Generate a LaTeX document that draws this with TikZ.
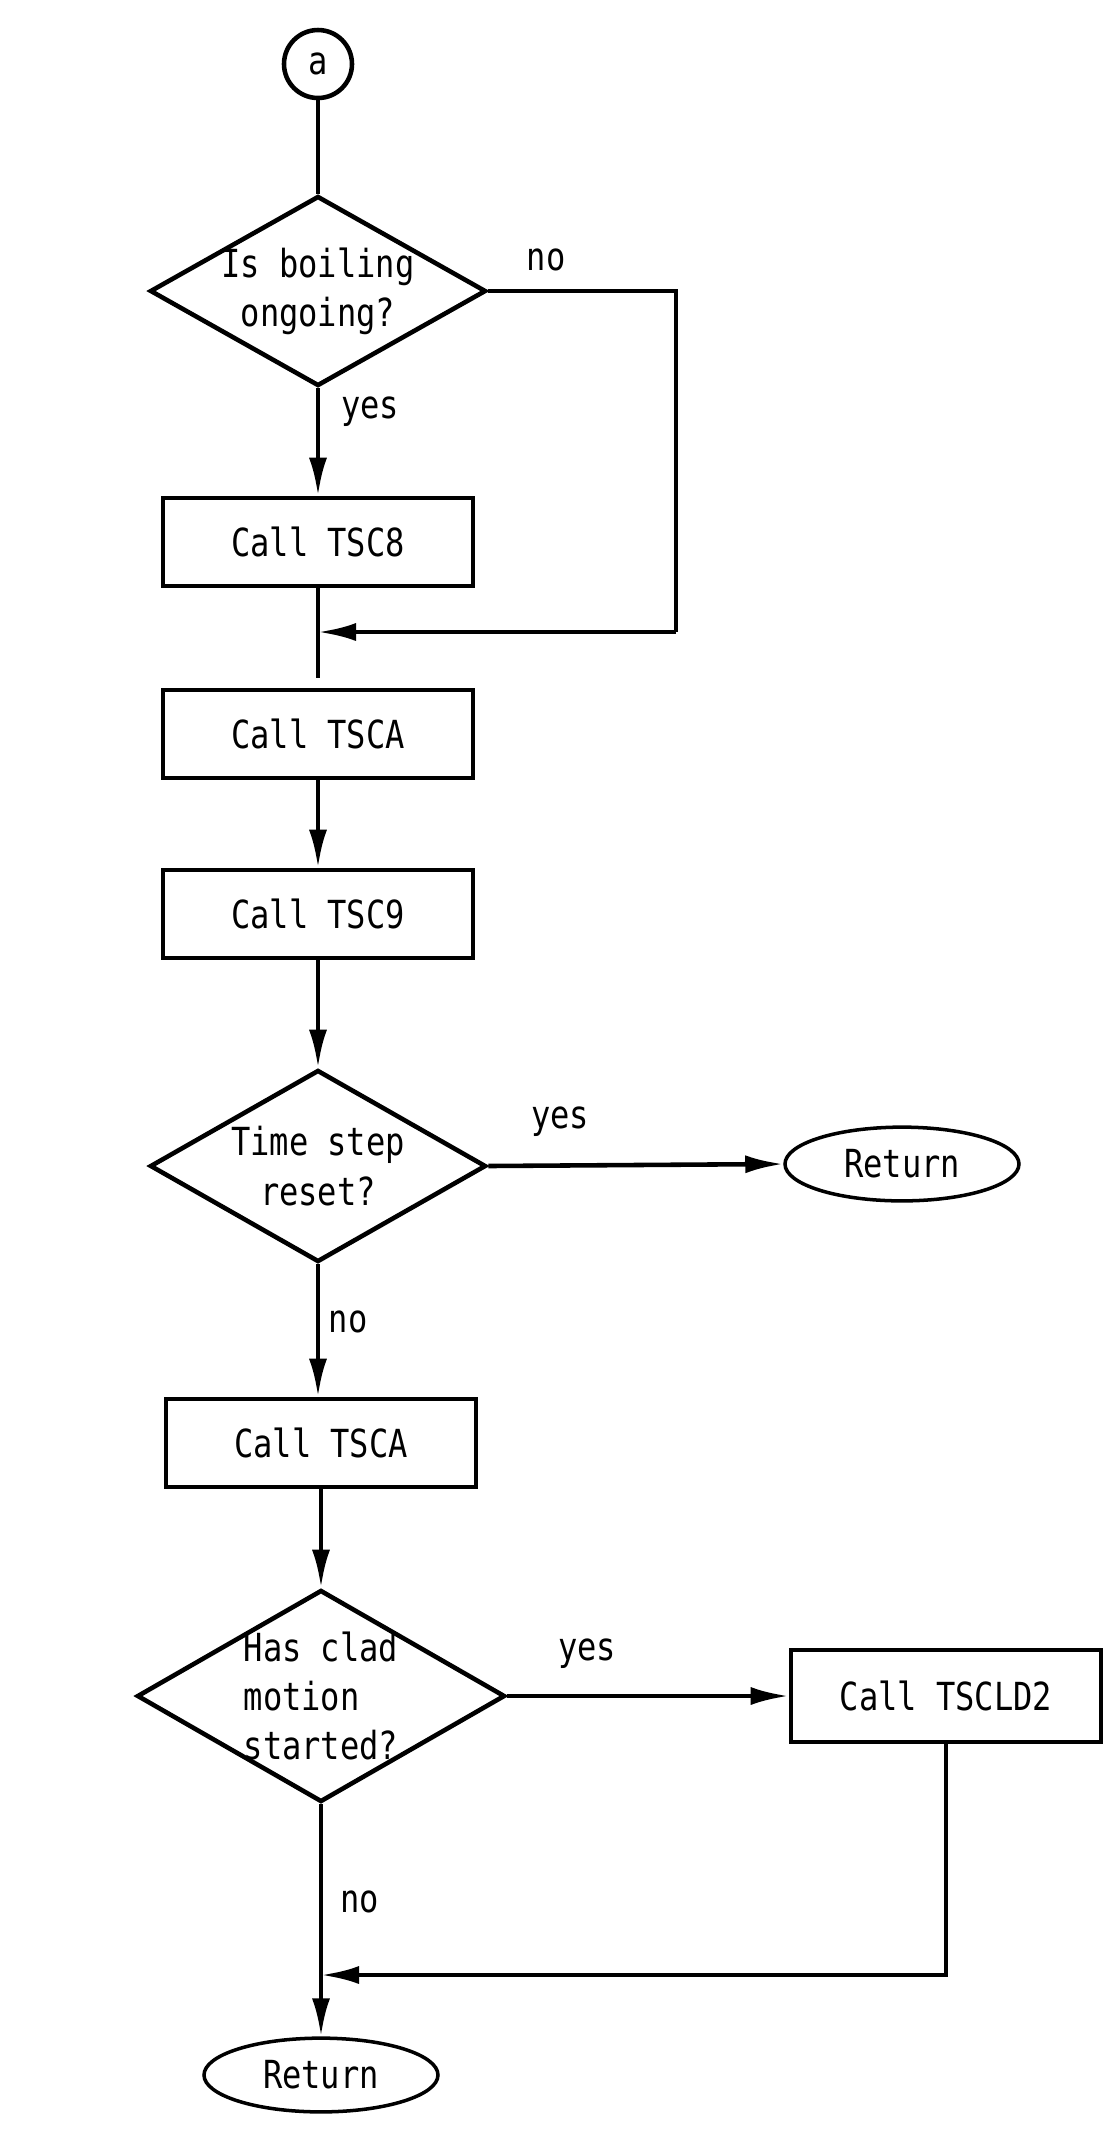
\documentclass[tikz,border=0pt]{standalone}
\usepackage{fontspec}
\setmainfont[FakeStretch=0.83]{DejaVu Sans Mono}
\usetikzlibrary{shapes.geometric,arrows.meta}

\begin{document}
\begin{tikzpicture}[y=-1cm,
    every node/.style={font=\fontsize{11}{14}\selectfont},
    flow/.style={line width=1.3pt},
    arrow/.style={flow, -{Latex[length=3.8mm,width=1.8mm]}},
    callbox/.style={draw, flow, rectangle, minimum width=3.1cm, minimum height=0.88cm},
    decision/.style={draw, flow, diamond, minimum width=3.36cm, minimum height=1.9cm, inner sep=0pt},
    terminal/.style={draw, line width=1pt, ellipse, minimum width=2.34cm, minimum height=0.72cm}]
    \useasboundingbox (0,0) rectangle (11.12,21.55);

    % Entry point
    \node[draw, flow, circle, minimum size=0.68cm, inner sep=0pt] (a) at (3.18, 0.64) {a};

    % Boiling check
    \node[decision, label={[align=center]center:Is boiling\\ongoing?}] (boil) at (3.18, 2.91) {};
    \node[callbox] (tsc8) at (3.18, 5.42) {Call TSC8};
    \coordinate (join1) at (3.18, 6.32);
    \coordinate (bypass) at (6.76, 6.32);
    \coordinate (stub) at (3.18, 6.78);
    \node (boilno) at (5.46, 2.60) {no};
    \node (boilyes) at (3.70, 4.12) {yes};

    % Time step update
    \node[callbox] (tsca1) at (3.18, 7.34) {Call TSCA};
    \node[callbox] (tsc9) at (3.18, 9.14) {Call TSC9};
    \node[decision, minimum height=1.92cm, label={[align=center]center:Time step\\reset?}] (reset) at (3.18, 11.66) {};
    \node[terminal] (ret1) at (9.02, 11.64) {Return};
    \node (resetyes) at (5.60, 11.22) {yes};
    \node (resetno) at (3.48, 13.22) {no};

    % Clad motion
    \node[callbox] (tsca2) at (3.21, 14.43) {Call TSCA};
    \node[decision, minimum width=3.68cm, minimum height=2.12cm, label={[align=left]center:Has clad\\motion\\started?}] (clad) at (3.21, 16.96) {};
    \node[callbox, minimum height=0.92cm] (tscld2) at (9.46, 16.96) {Call TSCLD2};
    \coordinate (merge) at (3.21, 19.75);
    \node[terminal, minimum height=0.68cm] (ret2) at (3.21, 20.75) {Return};
    \node (cladyes) at (5.87, 16.54) {yes};
    \node (cladno) at (3.60, 19.02) {no};

    % Connectors
    \draw[flow] (a) -- (boil);
    \draw[arrow] (boil) -- (tsc8);
    \draw[flow] (boil.east) -| (bypass);
    \draw[arrow] (bypass) -- (join1);
    \draw[flow] (tsc8) -- (stub);
    \draw[arrow] (tsca1) -- (tsc9);
    \draw[arrow] (tsc9) -- (reset);
    \draw[arrow] (reset.east) -- (ret1.west);
    \draw[arrow] (reset.south) -- (reset.south |- tsca2.north);
    \draw[arrow] (tsca2) -- (clad);
    \draw[arrow] (clad.east) -- (tscld2.west);
    \draw[arrow] (tscld2.south) |- (merge);
    \draw[arrow] (clad.south) -- (ret2.north);

\end{tikzpicture}
\end{document}
